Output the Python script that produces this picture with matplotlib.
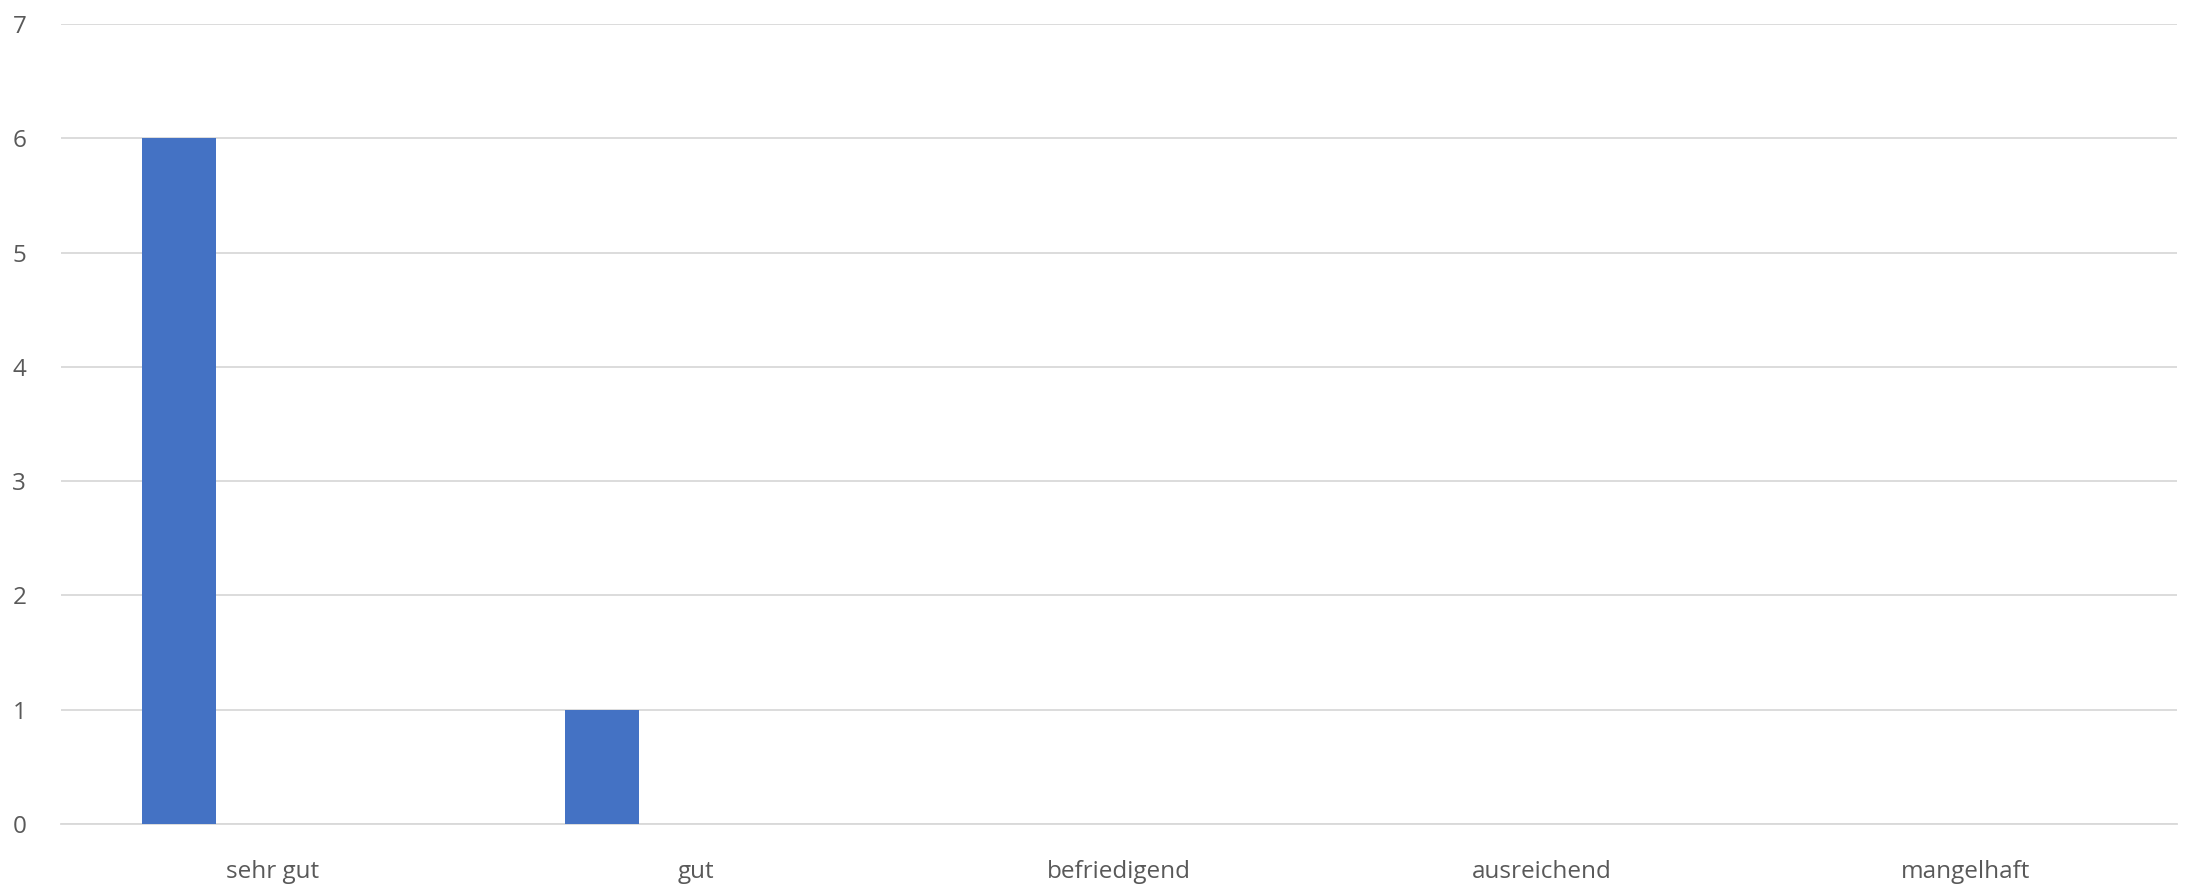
import matplotlib
matplotlib.use("Agg")
import matplotlib.pyplot as plt
import numpy as np

categories = ["sehr gut", "gut", "befriedigend", "ausreichend", "mangelhaft"]
values = [6, 1, 0, 0, 0]
yticks = [0, 1, 2, 3, 4, 5, 6, 7]

plt.rcParams['font.family'] = ['Open Sans', 'DejaVu Sans']

fig = plt.figure(figsize=(21.88, 8.84), dpi=100)
ax = fig.add_axes([61/2188, 1-824/884, (2177-61)/2188, 800/884])

x = np.arange(len(categories))
bar_w = 74/423.2
offset = -93.5/423.2
ax.bar(x + offset, values, width=bar_w, color="#4472C4", zorder=3)

ax.set_xlim(-0.5, len(categories)-0.5)
ax.set_ylim(0, 7)
ax.set_yticks(yticks)
ax.set_xticks(x)
ax.set_xticklabels(categories)
ax.grid(axis='y', color='#d9d9d9', linewidth=1.3, zorder=0)
for s in ['top', 'right', 'left']:
    ax.spines[s].set_visible(False)
ax.spines['bottom'].set_color('#d9d9d9')
ax.spines['bottom'].set_linewidth(1.3)
ax.tick_params(axis='both', length=0, labelsize=17.5, labelcolor='#595959')
ax.tick_params(axis='y', pad=30)
ax.tick_params(axis='x', pad=26)
for lbl in ax.get_yticklabels():
    lbl.set_horizontalalignment('center')

fig.savefig("out.png", dpi=100, facecolor='white')
